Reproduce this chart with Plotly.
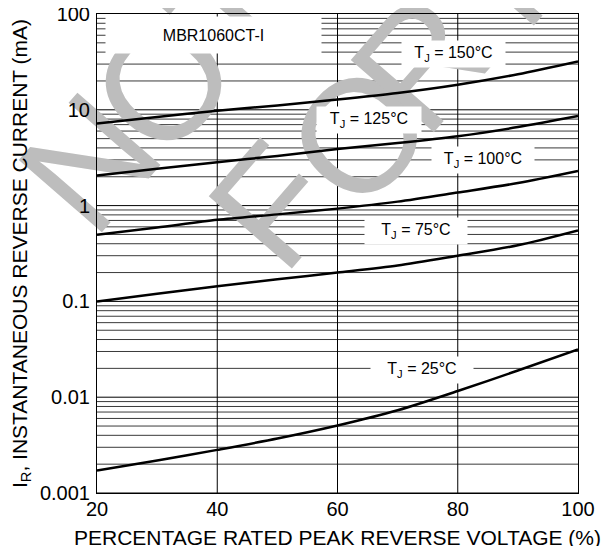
import math
import plotly.graph_objects as go

# ---- data ----
voltage_pct = [20, 30, 40, 50, 60, 70, 80, 90, 100]
ir_150 = [7.2, 8.4, 9.8, 11.1, 12.8, 15.0, 18.3, 23.5, 32.0]
ir_125 = [2.06, 2.42, 2.84, 3.3, 3.9, 4.5, 5.3, 6.6, 8.6]
ir_100 = [0.495, 0.59, 0.71, 0.81, 0.93, 1.1, 1.37, 1.72, 2.3]
ir_75 = [0.10, 0.12, 0.144, 0.17, 0.20, 0.237, 0.30, 0.385, 0.55]
ir_25 = [0.00172, 0.00218, 0.00282, 0.0037, 0.00506, 0.0073, 0.0116, 0.019, 0.0315]

series = [("150", ir_150), ("125", ir_125), ("100", ir_100), ("75", ir_75), ("25", ir_25)]

x_ticks = [20, 40, 60, 80, 100]
y_ticks = [0.001, 0.01, 0.1, 1, 10, 100]
y_ticktext = ["0.001", "0.01", "0.1", "1", "10", "100"]

# label placement: (text temp, x, log10 y)
label_temps = ["150", "125", "100", "75", "25"]
label_x = [79.3, 65.2, 84.2, 73.1, 74.1]
label_logy = [1.582, 0.893, 0.471, -0.270, -1.711]
label_w = [101, 102, 100, 100, 100]

FONT = "Liberation Sans, Arial, sans-serif"

fig = go.Figure()
for name, vals in series:
    fig.add_trace(go.Scatter(
        x=voltage_pct, y=vals, mode="lines", name=f"TJ={name}",
        line=dict(color="black", width=2.5, shape="spline", smoothing=0.8),
        showlegend=False, hoverinfo="skip"))

shapes = []
# horizontal grid (decades + minors)
for d in range(-3, 2):
    for m in range(1, 10):
        v = m * 10 ** d
        shapes.append(dict(type="line", xref="paper", x0=0, x1=1, yref="y",
                           y0=v, y1=v, layer="below",
                           line=dict(color="black" if m == 1 else "#3a3a3a", width=1)))
# vertical grid
for xv in x_ticks[1:-1]:
    shapes.append(dict(type="line", xref="x", x0=xv, x1=xv, yref="paper", y0=0, y1=1,
                       layer="below", line=dict(color="black", width=1)))

# watermark letters (page-pixel centres)
L, T, W, H = 97, 13.5, 481, 479.5
def px2paper(px, py):
    return (px - L) / W, 1 - (py - T) / H

wm = [("N", 78, 152), ("O", 152, 72), ("T", 220, -2),
      ("F", 262, 195), ("O", 348, 125), ("R", 410, 52), ("N", 510, -55)]
for ch, px, py in wm:
    xc, yc = px2paper(px, py)
    shapes.append(dict(type="rect", xref="paper", yref="paper",
                       x0=xc - 0.05, x1=xc + 0.05, y0=yc - 0.05, y1=yc + 0.05,
                       layer="below", line=dict(width=0), fillcolor="rgba(0,0,0,0)",
                       label=dict(text=ch, textangle=-49, textposition="middle center",
                                  font=dict(family=FONT, size=160, color="#bdbdbd"))))

annotations = []
annotations.append(dict(x=39.3, y=1.786, xref="x", yref="y", text="MBR1060CT-I",
                        showarrow=False, bgcolor="white", width=213, height=34,
                        font=dict(family=FONT, size=16, color="black")))
for t, lx, ly, w in zip(label_temps, label_x, label_logy, label_w):
    annotations.append(dict(x=lx, y=ly, xref="x", yref="y",
                            text=f"T<sub>J</sub> = {t}°C", showarrow=False,
                            bgcolor="white", width=w, height=24,
                            font=dict(family=FONT, size=16, color="black")))

fig.update_layout(
    width=614, height=546,
    margin=dict(l=89, r=44, t=5.5, b=61, autoexpand=False),
    paper_bgcolor="white", plot_bgcolor="white",
    shapes=shapes, annotations=annotations,
    font=dict(family=FONT, color="black"),
    xaxis=dict(range=[20, 100], tickvals=x_ticks, showgrid=False, zeroline=False,
               showline=True, linecolor="black", linewidth=1, mirror=True,
               ticks="", ticklen=0, ticklabelstandoff=-2, ticklabeloverflow="allow",
               tickfont=dict(size=20, family=FONT),
               title=dict(text="PERCENTAGE RATED PEAK REVERSE VOLTAGE (%)",
                          font=dict(size=21, family=FONT), standoff=11)),
    yaxis=dict(type="log", range=[-3, 2], tickvals=y_ticks, ticktext=y_ticktext,
               showgrid=False, zeroline=False, showline=True, linecolor="black",
               linewidth=1, mirror=True, ticks="", ticklen=0, ticklabelstandoff=2,
               ticklabeloverflow="allow", tickfont=dict(size=20, family=FONT),
               title=dict(text="I<sub>R</sub>, INSTANTANEOUS REVERSE CURRENT (mA)",
                          font=dict(size=21, family=FONT), standoff=16)),
)

fig.write_html("out.html")
